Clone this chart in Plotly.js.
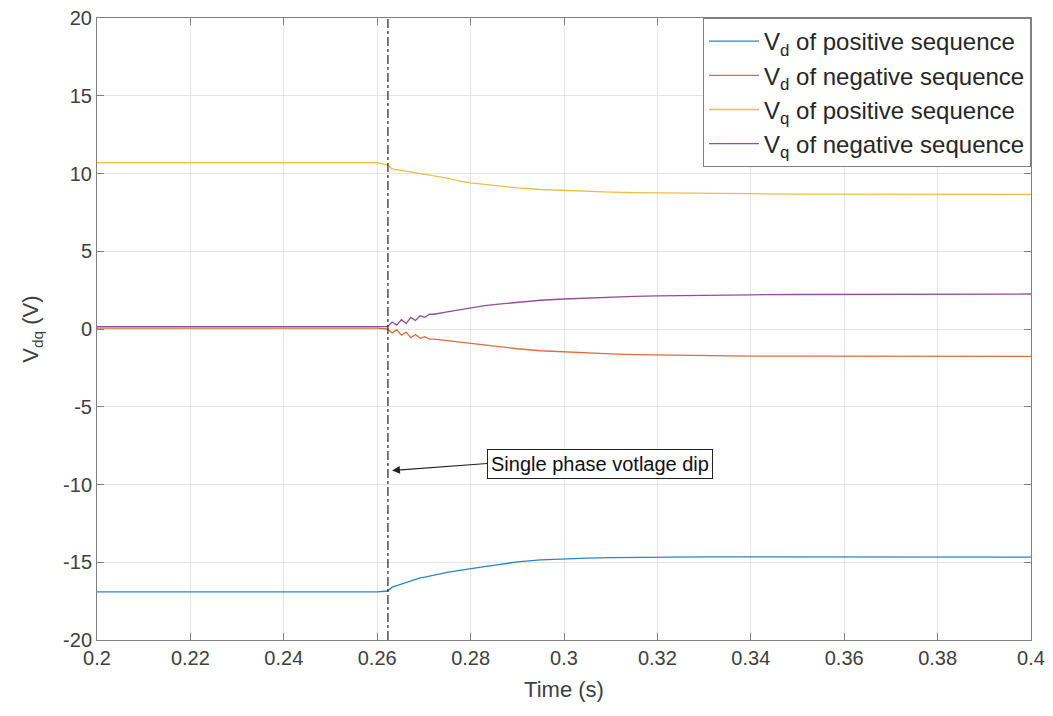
<!DOCTYPE html>
<html>
<head>
<meta charset="utf-8">
<script src="https://cdn.plot.ly/plotly-3.0.1.min.js"></script>
<style>html,body{margin:0;padding:0;background:#fff;}#chart{width:1053px;height:716px;}</style>
</head>
<body>
<div id="chart"></div>
<script>
const time = [0.2, 0.21, 0.22, 0.23, 0.24, 0.25, 0.26, 0.2622, 0.2632, 0.2642, 0.2652, 0.2662, 0.2672, 0.2682, 0.2692, 0.2702, 0.2712, 0.2722, 0.275, 0.278, 0.28, 0.283, 0.286, 0.29, 0.295, 0.3, 0.305, 0.31, 0.315, 0.32, 0.33, 0.34, 0.35, 0.36, 0.37, 0.38, 0.39, 0.4];
const vdPos = [-16.9, -16.9, -16.9, -16.9, -16.9, -16.9, -16.9, -16.85, -16.6, -16.5, -16.4, -16.3, -16.2, -16.1, -16.0, -15.95, -15.88, -15.8, -15.65, -15.5, -15.4, -15.28, -15.15, -14.98, -14.85, -14.77, -14.73, -14.7, -14.68, -14.67, -14.66, -14.65, -14.65, -14.64, -14.65, -14.66, -14.66, -14.67];
const vdNeg = [0.05, 0.05, 0.05, 0.05, 0.05, 0.05, 0.05, 0.0, -0.25, -0.05, -0.4, -0.2, -0.55, -0.35, -0.6, -0.5, -0.65, -0.65, -0.75, -0.85, -0.95, -1.05, -1.15, -1.27, -1.4, -1.48, -1.55, -1.6, -1.65, -1.68, -1.72, -1.75, -1.75, -1.76, -1.76, -1.75, -1.76, -1.76];
const vqPos = [10.7, 10.7, 10.7, 10.7, 10.7, 10.7, 10.7, 10.55, 10.3, 10.25, 10.2, 10.15, 10.1, 10.05, 10.0, 9.95, 9.9, 9.85, 9.7, 9.5, 9.4, 9.3, 9.2, 9.08, 8.97, 8.9, 8.85, 8.8, 8.77, 8.75, 8.72, 8.7, 8.68, 8.68, 8.67, 8.67, 8.66, 8.66];
const vqNeg = [0.15, 0.15, 0.15, 0.15, 0.15, 0.15, 0.15, 0.15, 0.45, 0.25, 0.6, 0.35, 0.75, 0.55, 0.85, 0.75, 0.95, 0.95, 1.1, 1.25, 1.35, 1.5, 1.6, 1.72, 1.85, 1.93, 2.0, 2.05, 2.1, 2.13, 2.18, 2.2, 2.22, 2.22, 2.22, 2.23, 2.24, 2.25];
const seriesNames = ["V<sub>d</sub> of positive sequence", "V<sub>d</sub> of negative sequence", "V<sub>q</sub> of positive sequence", "V<sub>q</sub> of negative sequence"];
const xTicks = [0.2, 0.22, 0.24, 0.26, 0.28, 0.3, 0.32, 0.34, 0.36, 0.38, 0.4];
const xTickLabels = ["0.2", "0.22", "0.24", "0.26", "0.28", "0.3", "0.32", "0.34", "0.36", "0.38", "0.4"];
const yTicks = [-20, -15, -10, -5, 0, 5, 10, 15, 20];
const yTickLabels = ["-20", "-15", "-10", "-5", "0", "5", "10", "15", "20"];
const dipTime = [0.2623, 0.2623];
const dipRange = [-20, 20];
const annText = "Single phase votlage dip";
const annPoint = [0.2632, -9.1];

const colors = ["#0072BD", "#D95319", "#EDB120", "#7E2F8E"];
const ys = [vdPos, vdNeg, vqPos, vqNeg];
const traces = ys.map((y, i) => ({
  x: time, y: y, type: "scatter", mode: "lines", name: seriesNames[i],
  line: {color: colors[i], width: 1.3}, opacity: 0.85
}));
traces.push({x: dipTime, y: dipRange, type: "scatter", mode: "lines", showlegend: false,
  line: {color: "#222", width: 1.2, dash: "dashdot"}, hoverinfo: "skip"});

const axisCommon = {
  showline: true, mirror: "ticks", linecolor: "#808080", linewidth: 1,
  ticks: "inside", ticklen: 7, tickcolor: "#808080",
  showgrid: true, gridcolor: "#e4e4e4", gridwidth: 1, zeroline: false,
  tickfont: {family: "Liberation Sans, Arial, sans-serif", size: 20, color: "#404040"}
};

const layout = {
  width: 1053, height: 716,
  margin: {l: 97, r: 22, t: 18, b: 76},
  paper_bgcolor: "#fff", plot_bgcolor: "#fff",
  font: {family: "Liberation Sans, Arial, sans-serif", color: "#262626"},
  xaxis: Object.assign({}, axisCommon, {
    range: [0.2, 0.4], tickvals: xTicks, ticktext: xTickLabels,
    title: {text: "Time (s)", font: {size: 22, color: "#404040"}, standoff: 13}
  }),
  yaxis: Object.assign({}, axisCommon, {
    range: [-20, 20], tickvals: yTicks, ticktext: yTickLabels,
    title: {text: "V<sub>dq</sub> (V)", font: {size: 22, color: "#404040"}, standoff: 18}
  }),
  legend: {
    x: 1, xanchor: "right", y: 1, yanchor: "top",
    bgcolor: "#fff", bordercolor: "#808080", borderwidth: 1,
    font: {size: 24, color: "#262626"}, itemwidth: 50, tracegroupgap: 0
  },
  annotations: [{
    x: annPoint[0], y: annPoint[1], xref: "x", yref: "y",
    text: annText, showarrow: true, arrowhead: 2, arrowsize: 1.3, arrowwidth: 1.2, arrowcolor: "#222",
    ax: 95, ay: -7, xanchor: "left",
    bordercolor: "#222", borderwidth: 1, borderpad: 3, bgcolor: "#fff",
    font: {size: 20, color: "#111"}
  }],
  showlegend: true
};

Plotly.newPlot("chart", traces, layout, {displayModeBar: false, staticPlot: true});
</script>
</body>
</html>
